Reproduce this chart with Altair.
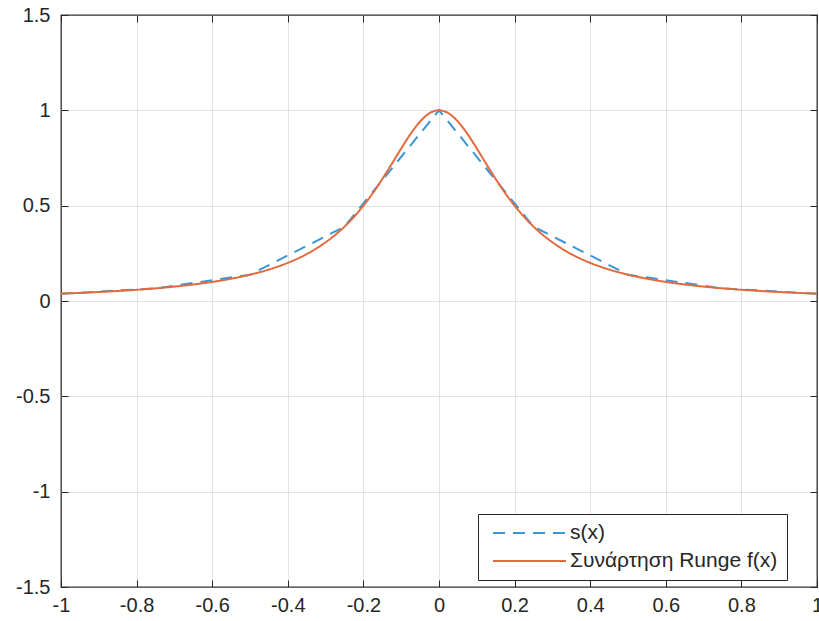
import altair as alt
import pandas as pd

# ---- data ----
series_names = ["s(x)", "Συνάρτηση Runge f(x)"]

# s(x): piecewise-linear interpolant through the nodes
s_x = [-1.0, -0.75, -0.5, -0.25, 0.0, 0.25, 0.5, 0.75, 1.0]
s_y = [0.038, 0.066, 0.138, 0.390, 1.000, 0.390, 0.138, 0.066, 0.038]

# Runge function f(x) sampled off the curve
f_x = [-1.0, -0.95, -0.9, -0.85, -0.8, -0.75, -0.7, -0.65, -0.6, -0.55,
       -0.5, -0.45, -0.4, -0.35, -0.3, -0.25, -0.2, -0.175, -0.15, -0.125,
       -0.1, -0.075, -0.05, -0.025, 0.0, 0.025, 0.05, 0.075, 0.1, 0.125,
       0.15, 0.175, 0.2, 0.25, 0.3, 0.35, 0.4, 0.45, 0.5, 0.55,
       0.6, 0.65, 0.7, 0.75, 0.8, 0.85, 0.9, 0.95, 1.0]
f_y = [0.0385, 0.0424, 0.0471, 0.0525, 0.0588, 0.0664, 0.0755, 0.0865, 0.100, 0.117,
       0.138, 0.165, 0.200, 0.246, 0.308, 0.390, 0.500, 0.566, 0.640, 0.719,
       0.800, 0.877, 0.941, 0.985, 1.000, 0.985, 0.941, 0.877, 0.800, 0.719,
       0.640, 0.566, 0.500, 0.390, 0.308, 0.246, 0.200, 0.165, 0.138, 0.117,
       0.100, 0.0865, 0.0755, 0.0664, 0.0588, 0.0525, 0.0471, 0.0424, 0.0385]

x_ticks = [-1, -0.8, -0.6, -0.4, -0.2, 0, 0.2, 0.4, 0.6, 0.8, 1]
y_ticks = [-1.5, -1, -0.5, 0, 0.5, 1, 1.5]

df_s = pd.DataFrame({"x": s_x, "y": s_y, "series": series_names[0]})
df_f = pd.DataFrame({"x": f_x, "y": f_y, "series": series_names[1]})

FONT = "Liberation Sans"
TXT = "#262626"
FS = 20
GRID = "#e2e2e2"

x_scale = alt.Scale(domain=[-1, 1], nice=False, zero=False)
y_scale = alt.Scale(domain=[-1.5, 1.5], nice=False, zero=False)
color_scale = alt.Scale(domain=series_names, range=["#3d95d6", "#e36a3d"])
dash_scale = alt.Scale(domain=series_names, range=[[12, 8], [1, 0]])

legend = alt.Legend(
    title=None, orient="none", legendX=417, legendY=499,
    symbolType="stroke", symbolSize=5329, symbolStrokeWidth=2,
    clipHeight=20, rowPadding=7, padding=9, symbolOffset=5, labelOffset=3,
    labelFont=FONT, labelFontSize=21, labelColor=TXT, labelLimit=500,
    strokeColor=TXT, fillColor="white", cornerRadius=0,
)

common_axis = dict(
    offset=-7, tickSize=7, domain=False, tickColor=TXT, tickWidth=1,
    labelFont=FONT, labelFontSize=FS, labelColor=TXT, title=None,
    labelFlush=False, labelOverlap=False, labelBound=False,
    labelExpr="toString(datum.value)",
)

x_main = alt.Axis(orient="bottom", values=x_ticks, grid=True, gridColor=GRID,
                  gridWidth=1, labelPadding=8,
                  gridOpacity=alt.condition("abs(datum.value) >= 1", alt.value(0), alt.value(1)),
                  **common_axis)
y_main = alt.Axis(orient="left", values=y_ticks, grid=True, gridColor=GRID,
                  gridWidth=1, labelPadding=11,
                  gridOpacity=alt.condition("abs(datum.value) >= 1.5", alt.value(0), alt.value(1)),
                  **common_axis)
x_top = alt.Axis(orient="top", values=x_ticks, grid=False, labels=False, offset=-7,
                 tickSize=7, domain=False, tickColor=TXT, title=None)
y_right = alt.Axis(orient="right", values=y_ticks, grid=False, labels=False, offset=-7,
                   tickSize=7, domain=False, tickColor=TXT, title=None)

s_line = alt.Chart(df_s).mark_line(strokeWidth=2).encode(
    x=alt.X("x:Q", scale=x_scale, axis=x_main),
    y=alt.Y("y:Q", scale=y_scale, axis=y_main),
    color=alt.Color("series:N", scale=color_scale, legend=legend),
    strokeDash=alt.StrokeDash("series:N", scale=dash_scale, legend=legend),
)

f_line = alt.Chart(df_f).mark_line(strokeWidth=2, interpolate="monotone").encode(
    x=alt.X("x:Q", scale=x_scale, axis=x_top),
    y=alt.Y("y:Q", scale=y_scale, axis=y_right),
    color=alt.Color("series:N", scale=color_scale, legend=legend),
    strokeDash=alt.StrokeDash("series:N", scale=dash_scale, legend=legend),
)

chart = alt.layer(s_line, f_line).resolve_axis(
    x="independent", y="independent"
).properties(
    width=756, height=572,
    autosize=alt.AutoSizeParams(type="none"),
    padding={"left": 61, "top": 15, "right": 2, "bottom": 34},
    background="white",
).configure_view(
    stroke="#303030", strokeWidth=1.3
)

chart.save("out.html", embed_options={"renderer": "svg", "actions": False})
